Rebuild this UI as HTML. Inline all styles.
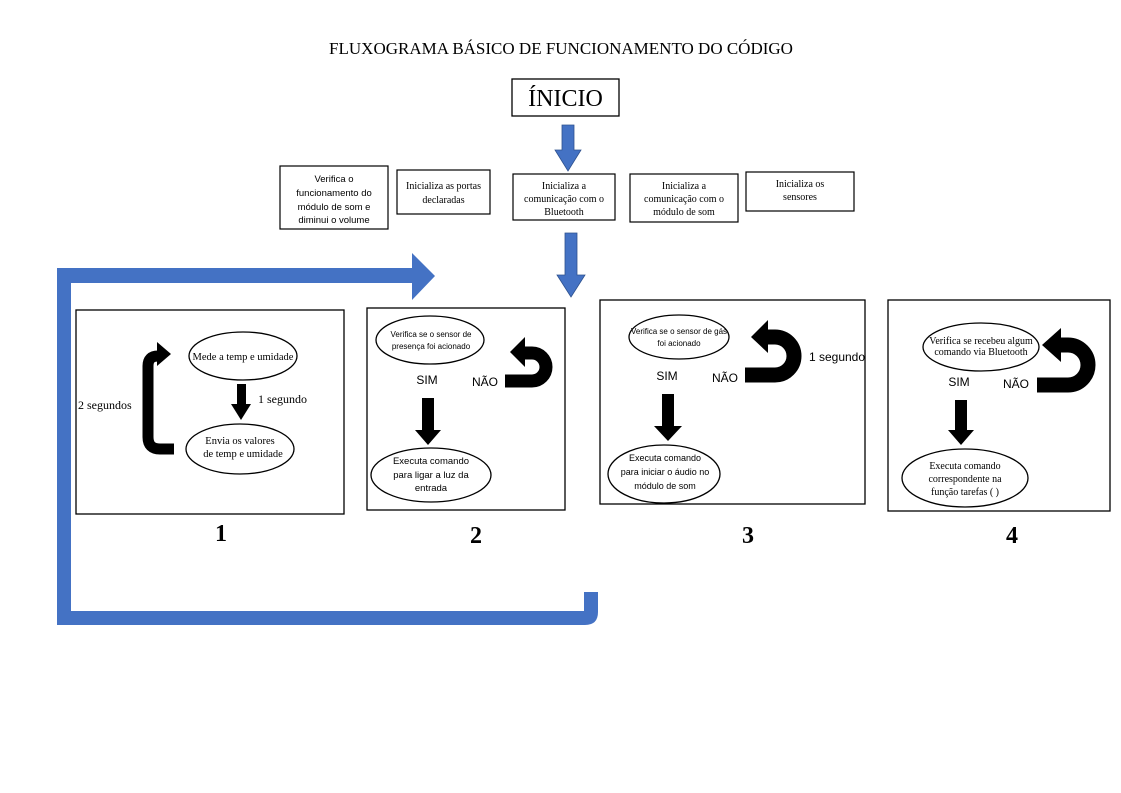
<!DOCTYPE html>
<html><head><meta charset="utf-8"><style>
body{margin:0;background:#fff;}
svg{display:block}
.s{font-family:"Liberation Sans",sans-serif;}
.r{font-family:"Liberation Serif",serif;}
</style></head><body>
<svg width="1121" height="793" viewBox="0 0 1121 793" xmlns="http://www.w3.org/2000/svg">
<rect width="1121" height="793" fill="#fff"/>
<text x="561" y="54" class="r" font-size="17" text-anchor="middle">FLUXOGRAMA BÁSICO DE FUNCIONAMENTO DO CÓDIGO</text>
<rect x="512" y="79" width="107" height="37" fill="none" stroke="#000" stroke-width="1.3"/>
<text x="565.5" y="106" class="r" font-size="24" text-anchor="middle">ÍNICIO</text>
<g fill="#4472c4" stroke="#2f528f" stroke-width="0.8">
<polygon points="562,125 574,125 574,150 581,150 568,171 555,150 562,150"/>
<polygon points="565,233 577,233 577,275 585,275 571,297 557,275 565,275"/>
</g>
<g fill="none" stroke="#000" stroke-width="1.2">
<rect x="280" y="166" width="108" height="63"/>
<rect x="397" y="170" width="93" height="44"/>
<rect x="513" y="174" width="102" height="46"/>
<rect x="630" y="174" width="108" height="48"/>
<rect x="746" y="172" width="108" height="39"/>
</g>
<g class="s" font-size="9.5" text-anchor="middle">
<text x="334" y="182">Verifica o</text>
<text x="334" y="196">funcionamento do</text>
<text x="334" y="210">módulo de som e</text>
<text x="334" y="223">diminui o volume</text>
</g>
<g class="r" font-size="10" text-anchor="middle">
<text x="443.5" y="189">Inicializa as portas</text>
<text x="443.5" y="203">declaradas</text>
<text x="564" y="189">Inicializa a</text>
<text x="564" y="202">comunicação com o</text>
<text x="564" y="215">Bluetooth</text>
<text x="684" y="189">Inicializa a</text>
<text x="684" y="202">comunicação com o</text>
<text x="684" y="215">módulo de som</text>
<text x="800" y="187">Inicializa os</text>
<text x="800" y="200">sensores</text>
</g>
<path d="M598,592 V612 Q598,625 585,625 H57 V268 H412 V253 L435,276 L412,300 V283 H71 V611 H584 V592 Z" fill="#4472c4"/>
<g fill="none" stroke="#000" stroke-width="1.3">
<rect x="76" y="310" width="268" height="204"/>
<rect x="367" y="308" width="198" height="202"/>
<rect x="600" y="300" width="265" height="204"/>
<rect x="888" y="300" width="222" height="211"/>
<ellipse cx="243" cy="356" rx="54" ry="24"/>
<ellipse cx="240" cy="449" rx="54" ry="25"/>
<ellipse cx="430" cy="340" rx="54" ry="24"/>
<ellipse cx="431" cy="475" rx="60" ry="27"/>
<ellipse cx="679" cy="337" rx="50" ry="22"/>
<ellipse cx="664" cy="474" rx="56" ry="29"/>
<ellipse cx="981" cy="347" rx="58" ry="24"/>
<ellipse cx="965" cy="478" rx="63" ry="29"/>
</g>
<g fill="#000">
<polygon points="237,384 246,384 246,404 251,404 241,420 231,404 237,404"/>
<polygon points="422,398 434,398 434,430 441,430 428,445 415,430 422,430"/>
<polygon points="662,394 674,394 674,426 682,426 668,441 654,426 662,426"/>
<polygon points="955,400 967,400 967,430 974,430 961,445 948,430 955,430"/>
<path d="M174,449 H160 Q148,449 148,437 V366 Q148,356 158,356" fill="none" stroke="#000" stroke-width="11"/>
<polygon points="157,342 171,354 157,366"/>
</g>
<g fill="none" stroke="#000">
<path d="M505,381 H532 A14,14 0 0 0 532,353 H522" stroke-width="13"/>
<path d="M745,375 H775 A19,19 0 0 0 775,337 H766" stroke-width="15"/>
<path d="M1037,385 H1068 A20,20 0 0 0 1068,345 H1058" stroke-width="15"/>
</g>
<g fill="#000">
<polygon points="525,337 525,367 510,352"/>
<polygon points="768,320 768,353 751,337"/>
<polygon points="1061,328 1061,362 1042,345"/>
</g>
<g class="r" font-size="10.5" text-anchor="middle">
<text x="243" y="360">Mede a temp e umidade</text>
<text x="240" y="444">Envia os valores</text>
<text x="243" y="457">de temp e umidade</text>
</g>
<g class="r" font-size="10" text-anchor="middle">
<text x="981" y="344">Verifica se recebeu algum</text>
<text x="981" y="355">comando via Bluetooth</text>
<text x="965" y="469">Executa comando</text>
<text x="965" y="482">correspondente na</text>
<text x="965" y="495">função tarefas ( )</text>
</g>
<g class="r" font-size="12">
<text x="258" y="403">1 segundo</text>
<text x="78" y="409">2 segundos</text>
</g>
<g class="s" font-size="8" text-anchor="middle">
<text x="431" y="337">Verifica se o sensor de</text>
<text x="431" y="349">presença foi acionado</text>
<text x="679" y="334">Verifica se o sensor de gás</text>
<text x="679" y="346">foi acionado</text>
</g>
<g class="s" font-size="9.5" text-anchor="middle">
<text x="431" y="464">Executa comando</text>
<text x="431" y="478">para ligar a luz da</text>
<text x="431" y="491">entrada</text>
</g>
<g class="s" font-size="9" text-anchor="middle">
<text x="665" y="461">Executa comando</text>
<text x="665" y="475">para iniciar o áudio no</text>
<text x="665" y="489">módulo de som</text>
</g>
<g class="s" font-size="12" text-anchor="middle">
<text x="427" y="384">SIM</text>
<text x="485" y="386">NÃO</text>
<text x="667" y="380">SIM</text>
<text x="725" y="382">NÃO</text>
<text x="959" y="386">SIM</text>
<text x="1016" y="388">NÃO</text>
<text x="837" y="361">1 segundo</text>
</g>
<g class="r" font-size="24" font-weight="bold" text-anchor="middle">
<text x="221" y="541">1</text>
<text x="476" y="543">2</text>
<text x="748" y="543">3</text>
<text x="1012" y="543">4</text>
</g>
</svg>
</body></html>
